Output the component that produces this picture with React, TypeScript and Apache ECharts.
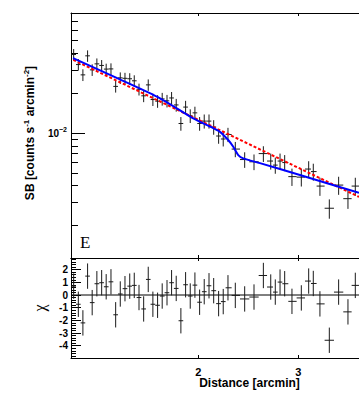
import React, { useEffect, useRef } from 'react';
import * as echarts from 'echarts';

// ---- data ----
const distance = [1.207, 1.230, 1.253, 1.277, 1.301, 1.326, 1.352, 1.377, 1.404, 1.431, 1.458, 1.486, 1.515, 1.543, 1.573, 1.603, 1.633, 1.664, 1.696, 1.728, 1.762, 1.795, 1.829, 1.864, 1.900, 1.936, 1.973, 2.011, 2.049, 2.089, 2.129, 2.172, 2.213, 2.256, 2.324, 2.414, 2.507, 2.604, 2.683, 2.733, 2.786, 2.839, 2.924, 3.037, 3.129, 3.188, 3.275, 3.402, 3.533, 3.669, 3.780];
const surfaceBrightness = [0.0392, 0.0329, 0.0275, 0.0383, 0.0300, 0.0333, 0.0324, 0.0304, 0.0305, 0.0225, 0.0261, 0.0259, 0.0257, 0.0248, 0.0214, 0.0191, 0.0231, 0.0179, 0.0174, 0.0181, 0.0175, 0.0184, 0.0163, 0.0118, 0.0157, 0.0135, 0.0142, 0.0118, 0.0123, 0.0123, 0.0111, 0.00949, 0.00901, 0.00974, 0.00756, 0.00630, 0.00606, 0.00699, 0.00614, 0.00572, 0.00614, 0.00598, 0.00468, 0.00464, 0.00534, 0.00511, 0.00397, 0.00270, 0.00404, 0.00319, 0.00397];
const sbError = [0.0039, 0.0033, 0.0028, 0.0038, 0.0030, 0.0033, 0.0032, 0.0030, 0.0031, 0.0023, 0.0026, 0.0026, 0.0026, 0.0025, 0.0022, 0.0020, 0.0023, 0.0019, 0.0019, 0.0020, 0.0019, 0.0020, 0.0018, 0.0014, 0.0018, 0.0016, 0.0016, 0.0014, 0.0015, 0.0015, 0.0014, 0.0012, 0.0011, 0.0012, 0.0010, 0.00085, 0.00082, 0.00095, 0.00085, 0.0008, 0.00085, 0.00083, 0.0007, 0.0007, 0.00078, 0.00075, 0.00062, 0.00045, 0.00063, 0.00052, 0.00062];
const chi = [0.7, -0.73, -2.2, 1.49, -0.6, 0.89, 0.97, 0.65, 1.04, -1.56, 0.08, 0.5, 0.7, 0.76, -0.2, -1.1, 1.23, -0.73, -0.81, -0.08, 0.18, 0.97, 0.52, -2.03, 0.81, -0.08, 0.78, -0.57, 0.26, 0.73, 0.34, -0.68, -0.52, 0.57, -0.03, -0.31, -0.16, 1.54, 0.63, 0.23, 1.02, 0.89, -0.5, -0.23, 1.1, 0.91, -0.7, -3.57, 0.23, -1.33, 0.76];
const chiError = 1;

// broken power-law model (blue) and single power-law (red dashed)
const modelDist = [1.204, 1.456, 1.713, 1.960, 2.097, 2.184, 2.258, 2.305, 2.352, 2.400, 2.568, 3.020, 3.837];
const modelSB = [0.0368, 0.0254, 0.0183, 0.0129, 0.0112, 0.0102, 0.00885, 0.00787, 0.00681, 0.00643, 0.00592, 0.00481, 0.00353];
const powerLawDist = [1.205, 3.837];
const powerLawSB = [0.0357, 0.00329];

// ticks
const xTickValues = [2, 3];
const sbMajorTicks = [0.01];
const sbMinorTicks = [0.002, 0.003, 0.004, 0.005, 0.006, 0.007, 0.008, 0.009, 0.02, 0.03, 0.04, 0.05, 0.06, 0.07];
const chiMajorTicks = [-4, -3, -2, -1, 0, 1, 2];

const X_MIN = 1.194;
const X_MAX = 3.837;
const SB_MIN = 0.001136;
const SB_MAX = 0.0807;
const CHI_MIN = -4.97;
const CHI_MAX = 2.92;

const FONT = "'Liberation Sans', Arial, Helvetica, sans-serif";
const SERIF = "'Liberation Serif', 'Times New Roman', serif";

function binEdges(xs: number[]) {
  return xs.map((x, i) => {
    const prev = i > 0 ? xs[i - 1] : (x * x) / xs[i + 1];
    const next = i < xs.length - 1 ? xs[i + 1] : (x * x) / xs[i - 1];
    return [Math.sqrt(prev * x), Math.sqrt(x * next)];
  });
}

function chiMinorTicks() {
  const out: number[] = [];
  for (let k = -24; k <= 14; k++) {
    if (k % 5 !== 0) out.push(k / 5);
  }
  return out;
}

const errRender = (params: any, api: any) => {
  const x = api.value(0);
  const y = api.value(1);
  const ey = api.value(2);
  const xl = api.value(3);
  const xh = api.value(4);
  const lo = api.coord([x, y - ey]);
  const hi = api.coord([x, y + ey]);
  const l = api.coord([xl, y]);
  const r = api.coord([xh, y]);
  const st = { stroke: '#1a1a1a', lineWidth: 1 };
  return {
    type: 'group',
    children: [
      { type: 'line', shape: { x1: lo[0], y1: lo[1], x2: hi[0], y2: hi[1] }, style: st },
      { type: 'line', shape: { x1: l[0], y1: l[1], x2: r[0], y2: r[1] }, style: st },
    ],
  };
};

export default function App() {
  const ref = useRef<HTMLDivElement>(null);

  useEffect(() => {
    if (!ref.current) return;
    const chart = echarts.init(ref.current, undefined, { renderer: 'svg' });
    const edges = binEdges(distance);
    const sbData = distance.map((d, i) => [d, surfaceBrightness[i], sbError[i], edges[i][0], edges[i][1]]);
    const chiData = distance.map((d, i) => [d, chi[i], chiError, edges[i][0], edges[i][1]]);

    const lineStyle = { color: '#000', width: 1 };
    const xAxis = (gridIndex: number, position: string, showLabel: boolean) => ({
      type: 'log',
      logBase: 10,
      gridIndex,
      position,
      min: X_MIN,
      max: X_MAX,
      axisLine: { show: true, onZero: false, lineStyle },
      axisTick: { show: true, inside: true, length: 3, customValues: xTickValues, lineStyle: { color: '#000' } },
      axisLabel: showLabel
        ? {
            show: true,
            customValues: xTickValues,
            formatter: (v: number) => String(Math.round(v)),
            fontSize: 11,
            fontWeight: 'bold',
            fontFamily: FONT,
            color: '#000',
            margin: 9,
            lineHeight: 9,
          }
        : { show: false },
      splitLine: { show: false },
      minorTick: { show: false },
    });

    const option: any = {
      animation: false,
      backgroundColor: '#fff',
      grid: [
        { left: 71, top: 13, right: 0, height: 245 },
        { left: 71, top: 258, right: 0, height: 100 },
      ],
      xAxis: [xAxis(0, 'bottom', false), xAxis(0, 'top', false), xAxis(1, 'bottom', true), xAxis(1, 'top', false)],
      yAxis: [
        {
          type: 'log',
          logBase: 10,
          gridIndex: 0,
          position: 'left',
          min: SB_MIN,
          max: SB_MAX,
          axisLine: { show: true, onZero: false, lineStyle },
          axisTick: { show: true, inside: true, length: 14, customValues: sbMajorTicks, lineStyle: { color: '#000' } },
          axisLabel: {
            show: true,
            customValues: sbMajorTicks,
            margin: 4,
            formatter: () => '{b|10}{s|\u22122}',
            rich: {
              b: { fontSize: 10, fontWeight: 'bold', fontFamily: FONT, color: '#000', lineHeight: 14 },
              s: { fontSize: 7, fontWeight: 'bold', fontFamily: FONT, color: '#000', verticalAlign: 'top', lineHeight: 7 },
            },
          },
          splitLine: { show: false },
        },
        {
          type: 'log',
          logBase: 10,
          gridIndex: 0,
          position: 'left',
          min: SB_MIN,
          max: SB_MAX,
          axisLine: { show: false },
          axisTick: { show: true, inside: true, length: 7, customValues: sbMinorTicks, lineStyle: { color: '#000' } },
          axisLabel: { show: false },
          splitLine: { show: false },
        },
        {
          type: 'value',
          gridIndex: 1,
          position: 'left',
          min: CHI_MIN,
          max: CHI_MAX,
          axisLine: { show: true, onZero: false, lineStyle },
          axisTick: { show: true, inside: true, length: 10, customValues: chiMajorTicks, lineStyle: { color: '#000' } },
          axisLabel: {
            show: true,
            customValues: chiMajorTicks,
            margin: 3,
            fontSize: 10,
            fontWeight: 'bold',
            fontFamily: FONT,
            color: '#000',
            formatter: (v: number) => String(v),
          },
          splitLine: { show: false },
        },
        {
          type: 'value',
          gridIndex: 1,
          position: 'left',
          min: CHI_MIN,
          max: CHI_MAX,
          axisLine: { show: false },
          axisTick: { show: true, inside: true, length: 5, customValues: chiMinorTicks(), lineStyle: { color: '#000' } },
          axisLabel: { show: false },
          splitLine: { show: false },
        },
      ],
      series: [
        {
          type: 'custom',
          name: 'SB data',
          xAxisIndex: 0,
          yAxisIndex: 0,
          renderItem: errRender,
          encode: { x: 0, y: 1 },
          data: sbData,
          z: 2,
        },
        {
          type: 'line',
          name: 'single power law',
          xAxisIndex: 0,
          yAxisIndex: 0,
          data: powerLawDist.map((d, i) => [d, powerLawSB[i]]),
          showSymbol: false,
          lineStyle: { color: '#ff0000', width: 2, type: [3, 2] },
          z: 3,
        },
        {
          type: 'line',
          name: 'broken power law',
          xAxisIndex: 0,
          yAxisIndex: 0,
          data: modelDist.map((d, i) => [d, modelSB[i]]),
          showSymbol: false,
          smooth: 0.25,
          lineStyle: { color: '#0000ff', width: 2 },
          z: 4,
        },
        {
          type: 'line',
          name: 'zero',
          xAxisIndex: 2,
          yAxisIndex: 2,
          data: [[X_MIN, 0], [X_MAX, 0]],
          showSymbol: false,
          lineStyle: { color: '#000', width: 1 },
          z: 1,
        },
        {
          type: 'custom',
          name: 'chi',
          xAxisIndex: 2,
          yAxisIndex: 2,
          renderItem: errRender,
          encode: { x: 0, y: 1 },
          data: chiData,
          z: 2,
        },
      ],
      graphic: [
        {
          type: 'text',
          x: 30,
          y: 133,
          rotation: Math.PI / 2,
          style: {
            text: 'SB [counts s{sup|-1} arcmin{sup|-2}]',
            fontSize: 12,
            fontWeight: 'bold',
            fontFamily: FONT,
            fill: '#000',
            align: 'center',
            verticalAlign: 'middle',
            lineHeight: 16,
            rich: {
              sup: { fontSize: 8, fontWeight: 'bold', fontFamily: FONT, fill: '#000', verticalAlign: 'top', lineHeight: 8 },
            },
          },
        },
        {
          type: 'text',
          x: 39,
          y: 308,
          rotation: Math.PI / 2,
          style: { text: 'χ', fontSize: 16, fontFamily: SERIF, fill: '#000', align: 'center', verticalAlign: 'middle' },
        },
        {
          type: 'text',
          x: 80,
          y: 242.5,
          style: { text: 'E', fontSize: 17, fontFamily: SERIF, fill: '#000', align: 'left', verticalAlign: 'middle' },
        },
        {
          type: 'text',
          x: 249.5,
          y: 383,
          style: {
            text: 'Distance [arcmin]',
            fontSize: 12,
            fontWeight: 'bold',
            fontFamily: FONT,
            fill: '#000',
            align: 'center',
            verticalAlign: 'middle',
            lineHeight: 12,
          },
        },
      ],
    };
    chart.setOption(option);
    return () => chart.dispose();
  }, []);

  return (
    <div
      ref={ref}
      style={{ position: 'fixed', left: 0, top: 0, width: 359, height: 397, background: '#fff' }}
    />
  );
}
